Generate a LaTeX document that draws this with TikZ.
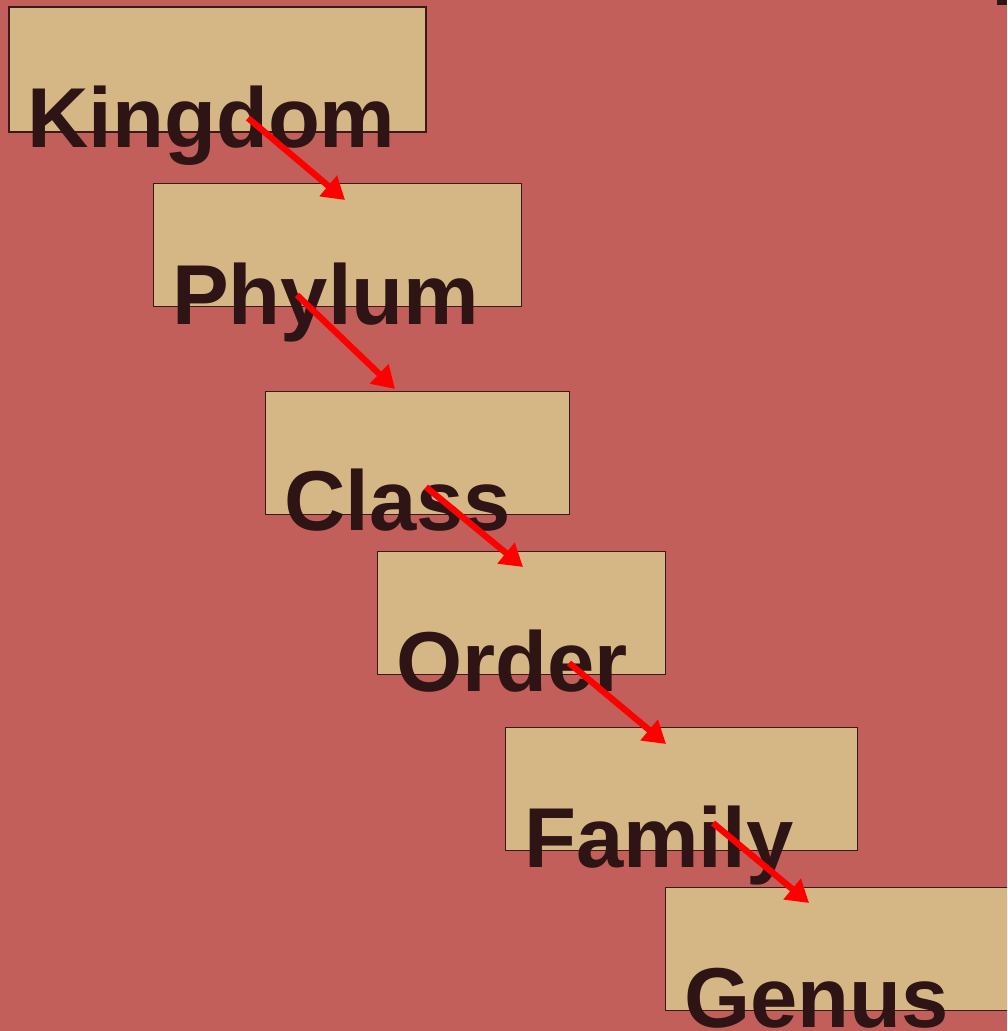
\documentclass[tikz,border=0pt]{standalone}
\usepackage{fontspec}
\setmainfont{Liberation Sans}
\usetikzlibrary{arrows.meta}
\definecolor{bgred}{HTML}{C25F5A}
\definecolor{tanfill}{HTML}{D4B784}
\definecolor{boxline}{HTML}{3A1A18}
\definecolor{txtcol}{HTML}{2E1414}
\begin{document}
\begin{tikzpicture}[x=1pt,y=-1pt,
  rankbox/.style={draw=boxline,fill=tanfill,line width=1pt,rectangle,anchor=north west,inner sep=0pt},
  ranktext/.style={anchor=base west,inner sep=0pt,text=txtcol,font=\fontsize{85}{85}\selectfont\bfseries},
  linkarrow/.style={draw=red,line width=6.3pt,-{Triangle[length=22pt,width=26pt]}}]
\useasboundingbox (0,0) rectangle (1007,1031);
\clip (0,0) rectangle (1007,1031);
\fill[bgred] (0,0) rectangle (1007,1031);
\fill[txtcol] (997,0) rectangle (1007,5);
% boxes
\node[rankbox,line width=2pt,minimum width=417pt,minimum height=125pt] (kb) at (8,6) {};
\node[rankbox,minimum width=368pt,minimum height=123pt] (pb) at (153,183) {};
\node[rankbox,minimum width=304pt,minimum height=123pt] (cb) at (265,391) {};
\node[rankbox,minimum width=288pt,minimum height=123pt] (ob) at (377,551) {};
\node[rankbox,minimum width=352pt,minimum height=123pt] (fb) at (505,727) {};
\node[rankbox,minimum width=360pt,minimum height=123pt] (gb) at (665,887) {};
% texts
\node[ranktext] (kt) at (27,147) {Kingdom};
\node[ranktext] (pt) at (172,324) {Phylum};
\node[ranktext] (ct) at (284,530) {Class};
\node[ranktext] (ot) at (396,691) {Order};
\node[ranktext] (ft) at (524,867) {Family};
\node[ranktext] (gt) at (684,1027) {Genus};
% arrow ends
\coordinate (k1) at (248,118); \coordinate (k2) at (345,200);
\coordinate (p1) at (297,295); \coordinate (p2) at (395,389);
\coordinate (c1) at (426,487); \coordinate (c2) at (523,567);
\coordinate (o1) at (569,663); \coordinate (o2) at (666,744);
\coordinate (f1) at (713,823); \coordinate (f2) at (809,903);
\draw[linkarrow] (k1) -- (k2);
\draw[linkarrow] (p1) -- (p2);
\draw[linkarrow] (c1) -- (c2);
\draw[linkarrow] (o1) -- (o2);
\draw[linkarrow] (f1) -- (f2);
\end{tikzpicture}
\end{document}
